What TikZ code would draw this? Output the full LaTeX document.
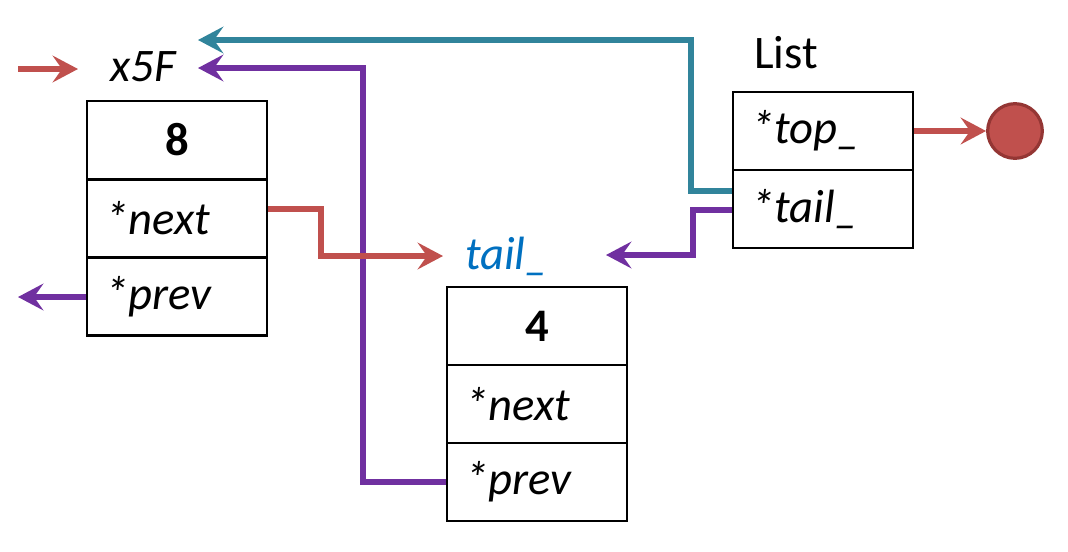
\documentclass[tikz,border=0pt]{standalone}
\usepackage{fontspec}
\setmainfont{Carlito}
\usetikzlibrary{arrows.meta,calc}
\definecolor{cred}{HTML}{C0504D}
\definecolor{cteal}{HTML}{31849B}
\definecolor{cpurple}{HTML}{7030A0}
\definecolor{cblue}{HTML}{0070C0}
\definecolor{cdred}{HTML}{943634}
\begin{document}
\begin{tikzpicture}[x=0.75pt,y=-0.75pt,
  font=\fontsize{35}{40}\selectfont,
  cell/.style={draw,line width=2pt,minimum width=135pt,minimum height=58.5pt,inner sep=0pt},
  field/.style={cell,text width=107pt,inner xsep=14pt,align=left,font=\fontsize{35}{40}\selectfont\itshape},
  conn/.style={line width=4.3pt,line join=miter,-{Stealth[length=19pt,width=20pt,inset=7pt]}},
  lbl/.style={inner sep=0pt,anchor=base}
]
\useasboundingbox (0,0) rectangle (1068,551);
% node 8
\node[cell] (v8) at (177,140) {\textbf{8}};
\node[field] (n8) at (177,218.5) {*next};
\node[field] (p8) at (177,296.5) {*prev};
% node 4
\node[cell] (v4) at (537,326) {\textbf{4}};
\node[field] (n4) at (537,404) {*next};
\node[field] (p4) at (537,482) {*prev};
% list
\node[field] (top) at (823,131) {*top\_};
\node[field] (tail) at (823,209) {*tail\_};
\node[lbl,anchor=base west] (list) at (754,68) {List};
% labels
\node[lbl] (x5f) at (143,81) {\itshape x5F};
\node[lbl,text=cblue] (tl) at (507,269) {\itshape tail\_};
% nil
\node[circle,fill=cred,draw=cdred,line width=2.4pt,minimum size=41pt,inner sep=0pt] (nil) at (1015,131) {};
% free ends
\coordinate (inx) at (18,69);
\coordinate (inxE) at (78,69);
\coordinate (prevE) at (18,297);
\coordinate (tealE) at (198,40);
\coordinate (purE) at (198,68);
\coordinate (redE) at (443,256);
\coordinate (tailE) at (606,255);
% connectors
\draw[conn,cred] (top.east) -- (nil.west);
\draw[conn,cred] (inx) -- (inxE);
\draw[conn,cpurple] ($(p8.west)+(0,0.5)$) -- (prevE);
\draw[conn,cteal] ($(tail.west)+(0,-18)$) -- (691,191) -- (691,40) -- (tealE);
\draw[conn,cpurple] (p4.west) -- (363,482) -- (363,68) -- (purE);
\draw[conn,cred] ($(n8.east)+(0,-9.5)$) -- (321,209) -- (321,256) -- (redE);
\draw[conn,cpurple] ($(tail.west)+(0,1)$) -- (693,210) -- (693,255) -- (tailE);
\end{tikzpicture}
\end{document}
